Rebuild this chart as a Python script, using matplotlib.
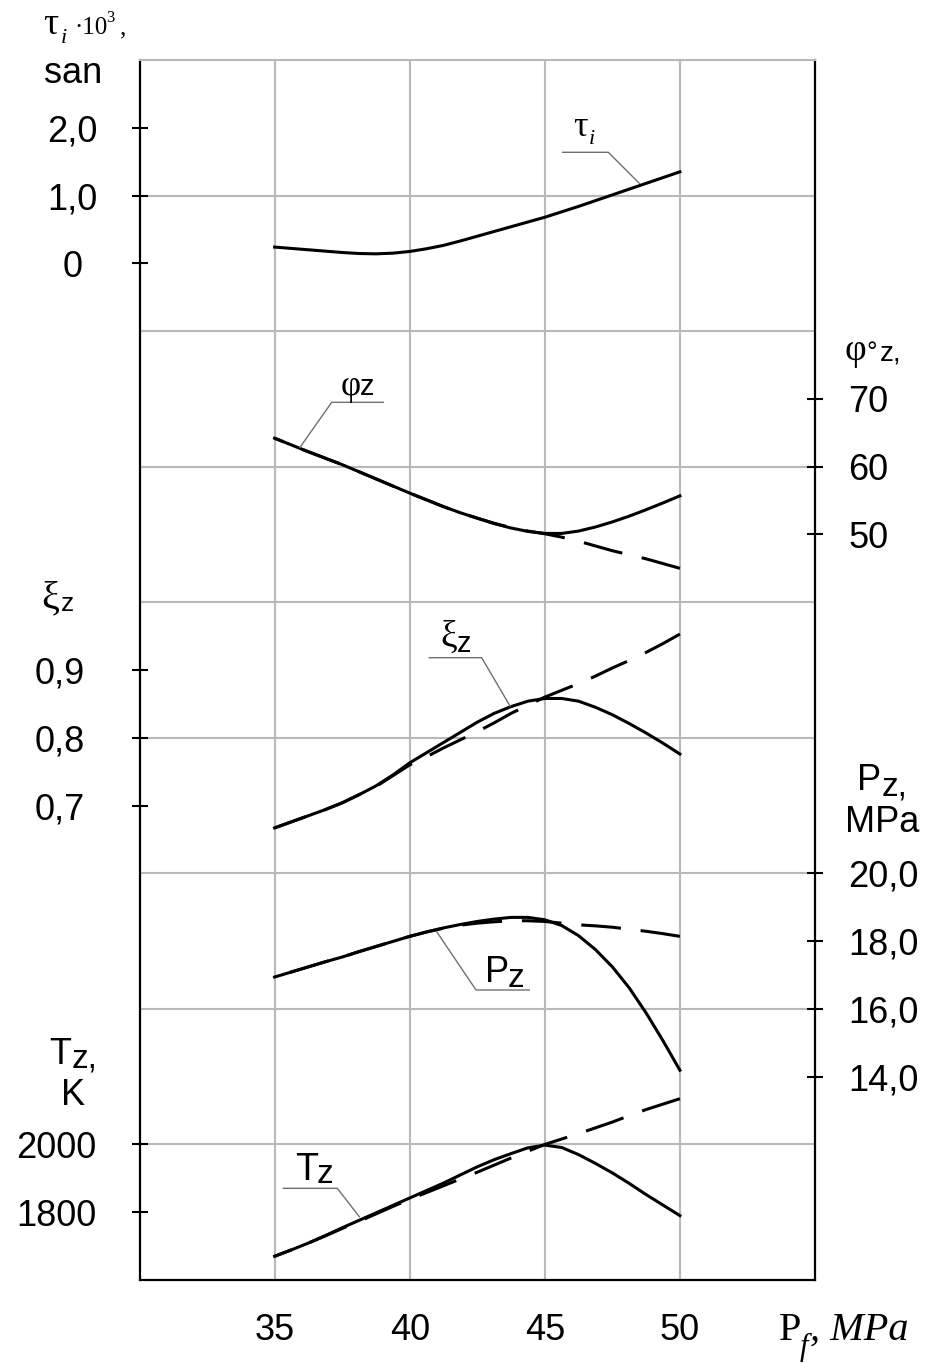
import matplotlib
matplotlib.use("Agg")
import matplotlib.pyplot as plt
from matplotlib.lines import Line2D
import numpy as np

# ---------------- data ----------------
P_f = [35, 35.625, 36.25, 36.875, 37.5, 38.125, 38.75, 39.375, 40, 40.625,
       41.25, 41.875, 42.5, 43.125, 43.75, 44.375, 45, 45.625, 46.25, 46.875,
       47.5, 48.125, 48.75, 49.375, 50]

tau_i = [0.24, 0.22, 0.20, 0.18, 0.16, 0.145, 0.14, 0.15, 0.175, 0.215,
         0.265, 0.33, 0.40, 0.47, 0.54, 0.61, 0.68, 0.76, 0.84, 0.925,
         1.01, 1.095, 1.18, 1.265, 1.35]

phi_solid = [64.2, 63.2, 62.2, 61.25, 60.3, 59.25, 58.2, 57.15, 56.1, 55.1,
             54.1, 53.2, 52.4, 51.6, 50.95, 50.45, 50.15, 50.15, 50.5, 51.1,
             51.85, 52.7, 53.65, 54.65, 55.7]
phi_dashed = [64.2, 63.2, 62.2, 61.25, 60.3, 59.25, 58.2, 57.15, 56.1, 55.1,
              54.1, 53.2, 52.4, 51.65, 51.0, 50.5, 50.1, 49.6, 49.0, 48.3,
              47.6, 47.0, 46.4, 45.7, 45.0]

xi_solid = [0.667, 0.676, 0.685, 0.694, 0.704, 0.716, 0.729, 0.745, 0.763, 0.778,
            0.793, 0.808, 0.823, 0.836, 0.846, 0.854, 0.858, 0.858, 0.854, 0.845,
            0.834, 0.821, 0.807, 0.792, 0.776]
xi_dashed = [0.667, 0.676, 0.685, 0.694, 0.704, 0.716, 0.728, 0.744, 0.760, 0.772,
             0.785, 0.797, 0.809, 0.822, 0.836, 0.848, 0.860, 0.870, 0.880, 0.891,
             0.903, 0.914, 0.926, 0.939, 0.953]

Pz_solid = [16.94, 17.09, 17.24, 17.39, 17.53, 17.69, 17.84, 17.99, 18.14, 18.27,
            18.39, 18.49, 18.58, 18.65, 18.70, 18.70, 18.63, 18.46, 18.16, 17.75,
            17.24, 16.62, 15.88, 15.06, 14.19]
Pz_dashed = [16.94, 17.09, 17.24, 17.39, 17.53, 17.69, 17.84, 17.99, 18.14, 18.27,
             18.38, 18.47, 18.53, 18.57, 18.60, 18.60, 18.58, 18.53, 18.48, 18.45,
             18.41, 18.35, 18.29, 18.22, 18.14]

Tz_solid = [1670, 1689, 1709, 1731, 1754, 1776, 1798, 1820, 1842, 1864,
            1886, 1910, 1934, 1955, 1973, 1990, 1998, 1991, 1970, 1944,
            1916, 1885, 1852, 1821, 1790]
Tz_dashed = [1670, 1689, 1709, 1730, 1752, 1773, 1795, 1817, 1838, 1858,
             1878, 1898, 1918, 1939, 1960, 1980, 2000, 2016, 2032, 2049,
             2066, 2085, 2103, 2119, 2135]

x_ticks = [35, 40, 45, 50]
x_tick_labels = ["35", "40", "45", "50"]

tau_ticks = [0, 1.0, 2.0]
tau_tick_labels = ["0", "1,0", "2,0"]
phi_ticks = [50, 60, 70]
phi_tick_labels = ["50", "60", "70"]
xi_ticks = [0.7, 0.8, 0.9]
xi_tick_labels = ["0,7", "0,8", "0,9"]
Pz_ticks = [14.0, 16.0, 18.0, 20.0]
Pz_tick_labels = ["14,0", "16,0", "18,0", "20,0"]
Tz_ticks = [1800, 2000]
Tz_tick_labels = ["1800", "2000"]

# ---------------- layout ----------------
plt.rcParams["font.family"] = ["Liberation Sans", "DejaVu Sans"]
W, H = 925, 1363
fig = plt.figure(figsize=(W / 100, H / 100), dpi=100)
fig.patch.set_facecolor("white")
L, R, T, B = 139.5, 815, 60, 1280
rect = [L / W, 1 - B / H, (R - L) / W, (B - T) / H]

GRID = "#b9b9b9"
TICKSIZE = 26

ax0 = fig.add_axes(rect)
ax0.set_xlim(30, 55)
ax0.set_ylim(18, 0)
ax0.set_xticks(x_ticks)
ax0.set_xticklabels(x_tick_labels)
ax0.set_yticks(np.arange(0, 17, 2))
ax0.grid(True, color=GRID, lw=1.5)
ax0.set_axisbelow(True)
ax0.tick_params(axis="y", left=False, labelleft=False)
ax0.tick_params(axis="x", length=0, pad=24, labelsize=TICKSIZE)
for s in ["left", "right", "bottom"]:
    ax0.spines[s].set_color("black")
    ax0.spines[s].set_linewidth(1.6)
ax0.spines["top"].set_color(GRID)
ax0.spines["top"].set_linewidth(1.5)


def overlay(ylim, side, ticks, labels, pad, ha):
    ax = fig.add_axes(rect, sharex=ax0)
    ax.patch.set_visible(False)
    ax.set_ylim(*ylim)
    for s in ax.spines.values():
        s.set_visible(False)
    ax.tick_params(axis="x", bottom=False, labelbottom=False)
    if side == "right":
        ax.yaxis.tick_right()
    else:
        ax.yaxis.tick_left()
    ax.set_yticks(ticks)
    ax.set_yticklabels(labels)
    ax.tick_params(axis="y", direction="inout", length=11, width=1.5,
                   pad=pad, labelsize=TICKSIZE, color="black")
    for lab in ax.get_yticklabels():
        lab.set_horizontalalignment(ha)
    return ax


ax_tau = overlay((-15, 3), "left", tau_ticks, tau_tick_labels, 43, "center")
ax_phi = overlay((-60, 120), "right", phi_ticks, phi_tick_labels, 18.5, "left")
ax_xi = overlay((0, 1.8), "left", xi_ticks, xi_tick_labels, 34, "right")
ax_Pz = overlay((8, 44), "right", Pz_ticks, Pz_tick_labels, 18.5, "left")
ax_Tz = overlay((1600, 5200), "left", Tz_ticks, Tz_tick_labels, 25.5, "right")

LW = 2.2
DASH = (0, (13, 6.5))
ax_tau.plot(P_f, tau_i, color="black", lw=LW)
ax_phi.plot(P_f, phi_solid, color="black", lw=LW)
# dashed curves drawn from the right end so that a dash ends at P_f = 50
ax_phi.plot(P_f[::-1], phi_dashed[::-1], color="black", lw=LW, ls=DASH)
ax_xi.plot(P_f, xi_solid, color="black", lw=LW)
ax_xi.plot(P_f[::-1], xi_dashed[::-1], color="black", lw=LW, ls=DASH)
ax_Pz.plot(P_f, Pz_solid, color="black", lw=LW)
ax_Pz.plot(P_f[::-1], Pz_dashed[::-1], color="black", lw=LW, ls=DASH)
ax_Tz.plot(P_f, Tz_solid, color="black", lw=LW)
ax_Tz.plot(P_f[::-1], Tz_dashed[::-1], color="black", lw=LW, ls=DASH)


# ---------------- texts (pixel positions, baseline anchored) ----------------
def ftext(x, y, s, size, family="Liberation Sans", style="normal", **kw):
    fig.text(x / W, 1 - y / H, s, fontsize=size, family=[family, "DejaVu Sans"],
             style=style, ha="left", va="baseline", color="black", **kw)


def fline(xs, ys, color="#707070", lw=1.0):
    fig.add_artist(Line2D([x / W for x in xs], [1 - y / H for y in ys],
                          transform=fig.transFigure, color=color, lw=lw))


SERIF = "Liberation Serif"
# top-left axis title: tau_i * 10^3, san
ftext(43, 34, "τ", 27, SERIF)
ftext(61, 43, "i", 16, SERIF, "italic")
ftext(74, 34, "·10", 18, SERIF)
ftext(106, 22, "3", 12, SERIF)
ftext(120, 34, ",", 18, SERIF)
ftext(44, 83, "san", 26)

# right: phi°z,
ftext(845, 360, "φ", 27, SERIF)
ftext(866, 360, "°", 19)
ftext(880, 360, "z,", 20)

# left: xi z
ftext(41, 608, "ξ", 29, SERIF)
ftext(61, 611, "z", 19)

# right: Pz, MPa
ftext(857, 790, "P", 26)
ftext(882, 795, "z,", 24)
ftext(845, 832, "MPa", 26)

# left: Tz, K
ftext(49, 1064, "T", 26)
ftext(72, 1068, "z,", 24)
ftext(61, 1105, "K", 26)

# x-axis label
ftext(779, 1340, "P", 29, SERIF)
ftext(800, 1355, "f", 22, SERIF, "italic")
ftext(810, 1340, ", MPa", 29, SERIF, "italic")

# curve labels with leader lines
ftext(573, 136, "τ", 26, SERIF)
ftext(589, 144, "i", 16, SERIF, "italic")
fline([562.7, 608.3, 639.3], [152.3, 152.3, 183.3])

ftext(341, 395, "φ", 25, SERIF)
ftext(360, 395, "z", 21)
fline([383.3, 331.7, 300.0], [402.3, 402.3, 447.3])

ftext(440, 647, "ξ", 27, SERIF)
ftext(457, 652, "z", 21)
fline([429.3, 481.7, 510.0], [657.7, 657.7, 706.0])

ftext(485, 982, "P", 26)
ftext(508, 987, "z", 24)
fline([529.3, 476.0, 436.7], [990.0, 990.0, 931.7])

ftext(295, 1180, "T", 27)
ftext(317, 1183, "z", 24)
fline([283.3, 337.3, 359.3], [1188.3, 1188.3, 1216.7])

fig.savefig("out.png", dpi=100, facecolor="white")
